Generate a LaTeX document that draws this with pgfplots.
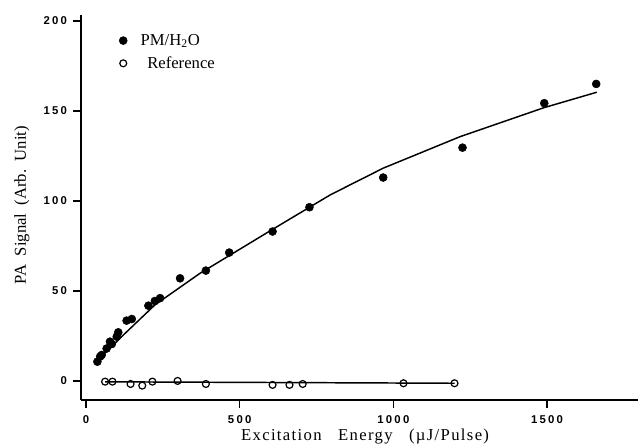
\documentclass[border=0pt]{standalone}
\usepackage{fontspec}
\setmainfont{Liberation Serif}
\setsansfont{Liberation Sans}
\newfontfamily\tickfont[LetterSpace=20]{Liberation Sans}
\newfontfamily\xlabfont[LetterSpace=8]{Liberation Serif}
\usepackage{pgfplots}
\pgfplotsset{compat=1.18}
\usetikzlibrary{calc}

% PM/H2O photoacoustic signal
\pgfplotstableread{
x y
37 10.7
46 13.5
51 14.4
67 18.0
78 21.8
84 20.5
100 24.6
105 27.0
132 33.5
149 34.4
203 41.8
224 44.4
241 46.0
306 57.0
390 61.3
466 71.3
607 83.0
727 96.5
967 113.0
1225 129.6
1491 154.3
1660 165.0
}\pmdata

% fitted curve
\pgfplotstableread{
x y
40 11.7
116 24.6
224 42.2
371 59.8
607 84.2
794 103.3
967 118.2
1217 135.7
1490 151.8
1662 160.4
}\fitdata

% reference sample
\pgfplotstableread{
x y
62 -0.4
86 -0.4
145 -1.7
183 -2.6
216 -0.4
298 0.0
390 -1.7
607 -2.2
662 -2.2
705 -1.7
1033 -1.3
1199 -1.3
}\refdata

\begin{document}
\begin{tikzpicture}
\begin{axis}[
  name=ax,
  scale only axis,
  width=417.75pt,height=288.75pt,
  xmin=-16.3,xmax=1796,ymin=-10.6,ymax=203.3,
  axis x line*=bottom,axis y line*=left,
  axis line style={line width=1.4pt},
  xtick={0,500,1000,1500},
  ytick={0,50,100,150,200},
  tick align=outside,
  major tick length=6pt,
  tick style={line width=1.1pt,black},
  minor tick num=0,
  tick label style={font=\fontsize{8.5}{10}\tickfont\bfseries},
  /pgf/number format/assume math mode=true,
  /pgf/number format/1000 sep={},
  xticklabel style={yshift=-2pt},
  yticklabel style={xshift=-1pt},
  xlabel={Excitation\ \ \ Energy\ \ \ (µJ/Pulse)},
  ylabel={PA\ \ Signal\ \ (Arb.\ \ Unit)},
  every axis x label/.style={at={(axis description cs:0.51,0)},anchor=center,
    yshift=-27.75pt,font=\fontsize{12.5}{14}\xlabfont},
  every axis y label/.style={at={(axis description cs:0,0.506)},anchor=center,
    rotate=90,yshift=44.25pt,font=\fontsize{12.5}{14}\selectfont},
  legend style={draw=none,fill=none,at={(axis description cs:0.061,0.965)},anchor=north west,
    font=\fontsize{12.5}{14}\selectfont,row sep=3pt},
  legend cell align=left,
  legend image code/.code={\draw[#1] plot coordinates {(0cm,0cm)};\path (0.38cm,0cm);},
]
\addplot[only marks,mark=*,mark size=3pt,mark options={fill=black,draw=black}] table[x=x,y=y] {\pmdata};
\addlegendentry{PM/H\textsubscript{2}O}
\addplot[only marks,mark=o,mark size=2.6pt,mark options={line width=0.9pt,draw=black}] table[x=x,y=y] {\refdata};
\addlegendentry{\hspace{5pt}Reference}
\addplot[black,line width=1.1pt,no marks,forget plot] table[x=x,y=y] {\fitdata};
\addplot[black,line width=1.1pt,no marks,forget plot] coordinates {(62,-0.5) (1199,-1.3)};
\end{axis}
\pgfresetboundingbox
\path ($(ax.south west)+(-60.75pt,-33.75pt)$) rectangle ($(ax.north east)+(0,11.25pt)$);
\end{tikzpicture}
\end{document}
